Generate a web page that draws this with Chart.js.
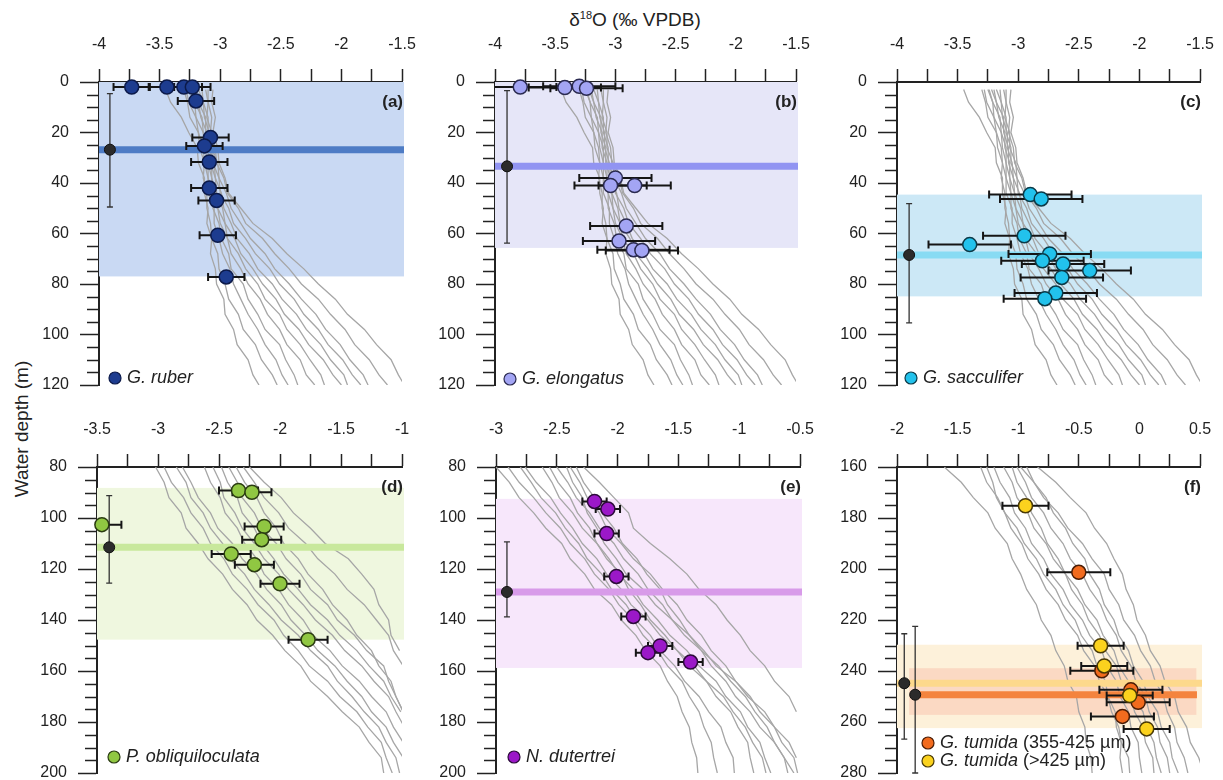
<!DOCTYPE html>
<html><head><meta charset="utf-8">
<script src="https://cdn.jsdelivr.net/npm/chart.js@4.4.1/dist/chart.umd.min.js"></script>
<style>
html,body{margin:0;padding:0;background:#fff;}
#wrap{position:relative;width:1223px;height:780px;overflow:hidden;font-family:'Liberation Sans',Arial,Helvetica,sans-serif;color:#222;}
#wrap canvas{position:absolute;}
#title{position:absolute;left:535px;width:200px;top:9px;text-align:center;font-size:19px;white-space:nowrap;}
#title sup{font-size:11px;}
#ylab{position:absolute;left:-78px;top:418px;width:200px;text-align:center;font-size:19px;transform:rotate(-90deg);white-space:nowrap;}
</style></head>
<body>
<div id="wrap">
  <div id="title">δ<sup>18</sup>O (‰ VPDB)</div>
  <div id="ylab">Water depth (m)</div>
</div>
<script>
// ---------- tick labels ----------
const xTicksTop = [-4, -3.5, -3, -2.5, -2, -1.5];
const xTicksD = [-3.5, -3, -2.5, -2, -1.5, -1];
const xTicksE = [-3, -2.5, -2, -1.5, -1, -0.5];
const xTicksF = [-2, -1.5, -1, -0.5, 0, 0.5];
const yTicksTop = [0, 20, 40, 60, 80, 100, 120];
const yTicksBot = [80, 100, 120, 140, 160, 180, 200];
const yTicksF = [160, 180, 200, 220, 240, 260, 280];

// ---------- gray profiles (top row, 0-120 m) ----------
const depthTop = [3,8,14,20,26,32,38,44,50,56,62,68,74,80,86,92,98,104,110,116,120];
const profT1 = [-3.45,-3.41,-3.32,-3.26,-3.19,-3.18,-3.13,-3.13,-3.10,-3.11,-3.07,-3.08,-3.04,-3.03,-2.97,-2.96,-2.89,-2.86,-2.77,-2.73,-2.68];
const profT2 = [-3.30,-3.27,-3.25,-3.18,-3.17,-3.13,-3.14,-3.11,-3.11,-3.08,-3.07,-3.02,-3.01,-2.96,-2.93,-2.85,-2.81,-2.71,-2.66,-2.57,-2.53];
const profT3 = [-3.28,-3.26,-3.20,-3.18,-3.14,-3.13,-3.10,-3.10,-3.05,-3.05,-3.01,-2.98,-2.92,-2.89,-2.83,-2.77,-2.69,-2.63,-2.54,-2.49,-2.44];
const profT4 = [-3.25,-3.21,-3.20,-3.14,-3.13,-3.10,-3.10,-3.06,-3.06,-3.01,-2.99,-2.93,-2.91,-2.81,-2.77,-2.69,-2.63,-2.51,-2.46,-2.39,-2.36];
const profT5 = [-3.24,-3.21,-3.15,-3.14,-3.10,-3.10,-3.07,-3.06,-3.02,-3.00,-2.94,-2.91,-2.83,-2.77,-2.67,-2.61,-2.51,-2.45,-2.34,-2.29,-2.22];
const profT6 = [-3.22,-3.18,-3.16,-3.11,-3.11,-3.07,-3.07,-3.03,-3.02,-2.96,-2.94,-2.85,-2.79,-2.69,-2.63,-2.51,-2.45,-2.34,-2.26,-2.17,-2.14];
const profT7 = [-3.20,-3.18,-3.12,-3.12,-3.08,-3.08,-3.04,-3.03,-2.98,-2.96,-2.88,-2.83,-2.73,-2.65,-2.54,-2.47,-2.35,-2.27,-2.15,-2.07,-2.00];
const profT8 = [-3.18,-3.14,-3.13,-3.09,-3.09,-3.05,-3.04,-2.99,-2.97,-2.91,-2.86,-2.76,-2.69,-2.57,-2.49,-2.37,-2.29,-2.17,-2.09,-1.98,-1.95];
const profT9 = [-3.15,-3.14,-3.10,-3.10,-3.06,-3.06,-3.01,-3.00,-2.93,-2.89,-2.79,-2.71,-2.59,-2.51,-2.39,-2.31,-2.19,-2.11,-1.99,-1.91,-1.84];
const profT10 = [-3.12,-3.10,-3.11,-3.07,-3.07,-3.02,-3.01,-2.95,-2.91,-2.83,-2.75,-2.63,-2.55,-2.43,-2.33,-2.21,-2.13,-2.01,-1.93,-1.82,-1.78];
const profT11 = [-3.10,-3.10,-3.07,-3.08,-3.04,-3.03,-2.97,-2.94,-2.85,-2.79,-2.65,-2.55,-2.43,-2.33,-2.19,-2.09,-1.97,-1.89,-1.77,-1.69,-1.62];
const profT12 = [-3.06,-3.07,-3.04,-3.06,-3.02,-3.01,-2.96,-2.93,-2.83,-2.73,-2.57,-2.45,-2.31,-2.19,-2.05,-1.95,-1.81,-1.71,-1.59,-1.53,-1.48];
const profilesTop = [profT1,profT2,profT3,profT4,profT5,profT6,profT7,profT8,profT9,profT10,profT11,profT12];

// ---------- gray profiles (d, e : 80-200 m) ----------
const depthBot = [80,86,92,98,104,110,116,122,128,134,140,146,152,158,164,170,176,182,188,194,200];
const profD1 = [-3.02,-2.95,-2.91,-2.81,-2.77,-2.67,-2.59,-2.47,-2.39,-2.27,-2.19,-2.06,-1.96,-1.83,-1.75,-1.61,-1.49,-1.35,-1.27,-1.17,-1.15];
const profD2 = [-2.95,-2.89,-2.79,-2.73,-2.63,-2.57,-2.46,-2.39,-2.27,-2.18,-2.05,-1.97,-1.85,-1.76,-1.61,-1.51,-1.37,-1.28,-1.17,-1.13,-1.08];
const profD3 = [-2.85,-2.77,-2.73,-2.63,-2.57,-2.47,-2.41,-2.29,-2.21,-2.09,-1.99,-1.85,-1.75,-1.61,-1.53,-1.41,-1.31,-1.19,-1.13,-1.05,-1.02];
const profD4 = [-2.80,-2.73,-2.67,-2.57,-2.51,-2.39,-2.31,-2.19,-2.11,-1.99,-1.91,-1.79,-1.69,-1.55,-1.45,-1.33,-1.25,-1.13,-1.07,-0.99];
const profD5 = [-2.62,-2.57,-2.49,-2.45,-2.35,-2.29,-2.19,-2.13,-2.01,-1.93,-1.81,-1.73,-1.59,-1.49,-1.35,-1.25,-1.13,-1.07,-0.99];
const profD6 = [-2.55,-2.49,-2.46,-2.37,-2.31,-2.21,-2.13,-2.01,-1.93,-1.81,-1.71,-1.57,-1.47,-1.33,-1.23,-1.11,-1.05,-0.98];
const profD7 = [-2.48,-2.43,-2.35,-2.31,-2.21,-2.15,-2.05,-1.97,-1.85,-1.75,-1.61,-1.51,-1.37,-1.27,-1.15,-1.09,-1.01];
const profD8 = [-2.42,-2.35,-2.31,-2.21,-2.15,-2.03,-1.95,-1.83,-1.75,-1.61,-1.53,-1.39,-1.29,-1.15,-1.11,-1.05,-0.99];
const profD9 = [-2.36,-2.29,-2.19,-2.13,-2.03,-1.97,-1.85,-1.77,-1.65,-1.57,-1.45,-1.37,-1.25,-1.19,-1.09,-1.05,-0.99];
const profD10 = [-2.30,-2.21,-2.13,-2.01,-1.93,-1.79,-1.69,-1.55,-1.45,-1.31,-1.21,-1.11,-1.07,-0.99];
const profD11 = [-2.25,-2.13,-1.99,-1.89,-1.75,-1.63,-1.44,-1.33,-1.23,-1.19,-1.11,-1.09,-1.02];
const profilesD = [profD1,profD2,profD3,profD4,profD5,profD6,profD7,profD8,profD9,profD10,profD11];

const profE1 = [-3.00,-2.89,-2.81,-2.69,-2.59,-2.46,-2.39,-2.27,-2.19,-2.05,-1.97,-1.85,-1.77,-1.65,-1.59,-1.51,-1.47,-1.41,-1.39,-1.35,-1.34];
const profE2 = [-2.90,-2.81,-2.69,-2.59,-2.47,-2.39,-2.27,-2.19,-2.07,-1.99,-1.87,-1.79,-1.67,-1.59,-1.47,-1.41,-1.33,-1.29,-1.23,-1.21,-1.18];
const profE3 = [-2.80,-2.71,-2.63,-2.51,-2.43,-2.32,-2.25,-2.13,-2.05,-1.93,-1.85,-1.73,-1.65,-1.53,-1.45,-1.33,-1.25,-1.15,-1.11,-1.05,-1.04];
const profE4 = [-2.76,-2.67,-2.55,-2.47,-2.37,-2.29,-2.17,-2.09,-1.97,-1.89,-1.75,-1.65,-1.51,-1.41,-1.27,-1.19,-1.07,-1.01,-0.93,-0.91,-0.88];
const profE5 = [-2.56,-2.49,-2.39,-2.33,-2.23,-2.17,-2.07,-1.99,-1.87,-1.79,-1.67,-1.57,-1.43,-1.33,-1.19,-1.11,-0.99,-0.93,-0.83,-0.79,-0.74];
const profE6 = [-2.50,-2.41,-2.34,-2.23,-2.15,-2.03,-1.95,-1.83,-1.75,-1.63,-1.55,-1.41,-1.31,-1.17,-1.07,-0.95,-0.87,-0.77,-0.71,-0.63,-0.60];
const profE7 = [-2.42,-2.37,-2.29,-2.25,-2.17,-2.11,-2.01,-1.93,-1.79,-1.69,-1.55,-1.45,-1.31,-1.23,-1.11,-1.03,-0.91,-0.83,-0.71,-0.63,-0.55];
const profE8 = [-2.39,-2.31,-2.25,-2.15,-2.09,-1.97,-1.87,-1.73,-1.63,-1.51,-1.43,-1.31,-1.23,-1.11,-1.03,-0.91,-0.83,-0.71,-0.65,-0.55,-0.52];
const profE9 = [-2.34,-2.28,-2.19,-2.13,-2.03,-1.96,-1.84,-1.76,-1.65,-1.59,-1.49,-1.41,-1.29,-1.19,-1.03,-0.93,-0.79,-0.71,-0.59,-0.53];
const profE10 = [-2.28,-2.15,-2.03,-1.91,-1.87,-1.73,-1.57,-1.43,-1.33,-1.19,-1.10,-0.99,-0.91,-0.79,-0.71,-0.59,-0.53];
const profE11 = [-2.62,-2.54,-2.48,-2.37,-2.29,-2.17,-2.09,-1.97,-1.91,-1.81,-1.73,-1.61,-1.51,-1.37,-1.27,-1.13,-1.05,-0.95,-0.89,-0.81,-0.78];
const profilesE = [profE1,profE2,profE3,profE4,profE5,profE6,profE7,profE8,profE9,profE10,profE11];

// ---------- gray profiles (f : 160-280 m) ----------
const depthF = [160,166,172,178,184,190,196,202,208,214,220,226,232,238,244,250,256,262,268,274,280];
const profF1 = [-1.61,-1.47,-1.37,-1.25,-1.19,-1.09,-1.05,-0.98,-0.93,-0.85,-0.81,-0.73,-0.69,-0.62,-0.59,-0.52,-0.50,-0.45,-0.44,-0.40,-0.39];
const profF2 = [-1.31,-1.26,-1.17,-1.11,-1.01,-0.95,-0.85,-0.79,-0.69,-0.63,-0.53,-0.48,-0.39,-0.35,-0.28,-0.26,-0.20,-0.19,-0.15,-0.16,-0.14];
const profF3 = [-1.26,-1.21,-1.18,-1.11,-1.06,-0.97,-0.92,-0.83,-0.77,-0.67,-0.61,-0.51,-0.46,-0.37,-0.33,-0.26,-0.23,-0.17,-0.15,-0.09,-0.08];
const profF4 = [-1.20,-1.15,-1.07,-1.03,-0.94,-0.89,-0.79,-0.73,-0.63,-0.57,-0.47,-0.41,-0.31,-0.27,-0.19,-0.16,-0.09,-0.07,-0.01,0.00,0.02];
const profF5 = [-1.12,-1.05,-1.01,-0.92,-0.87,-0.77,-0.71,-0.61,-0.56,-0.47,-0.42,-0.33,-0.28,-0.19,-0.15,-0.07,-0.04,0.03,0.05,0.11,0.12];
const profF6 = [-1.05,-1.01,-0.93,-0.89,-0.81,-0.76,-0.67,-0.61,-0.51,-0.45,-0.35,-0.30,-0.21,-0.17,-0.09,-0.05,0.03,0.06,0.12,0.14,0.18];
const profF7 = [-1.01,-0.94,-0.89,-0.79,-0.73,-0.63,-0.57,-0.47,-0.41,-0.32,-0.27,-0.19,-0.15,-0.07,-0.03,0.05,0.08,0.15,0.17,0.23,0.25];
const profF8 = [-0.93,-0.87,-0.77,-0.71,-0.61,-0.55,-0.45,-0.41,-0.33,-0.29,-0.21,-0.17,-0.09,-0.05,0.03,0.07,0.15,0.18,0.25,0.27,0.32];
const profF9 = [-0.84,-0.69,-0.57,-0.44,-0.37,-0.27,-0.21,-0.14,-0.11,-0.05,-0.02,0.05,0.09,0.17,0.21,0.29,0.32,0.39,0.42,0.49,0.53];
const profF10 = [-0.98,-0.87,-0.79,-0.67,-0.59,-0.47,-0.39,-0.29,-0.25,-0.17,-0.13,-0.04,0.01,0.09,0.13,0.20,0.23,0.29,0.31,0.37,0.40];
const profilesF = [profF1,profF2,profF3,profF4,profF5,profF6,profF7,profF8,profF9,profF10];

// ---------- species measurements (x = d18O, y = depth) ----------
const aX = [-3.73,-3.44,-3.30,-3.23,-3.20,-3.08,-3.13,-3.09,-3.09,-3.03,-3.02,-2.95];
const aY = [2,2,2,2,7.5,22,25.3,31.7,42,46.9,60.7,77.2];
const aErr = 0.15;
const aMean = [-3.91, 26.8, 4.6, 49.5];   // x, depth, lower, upper
const aBand = [0, 77];

const bX = [-3.79,-3.42,-3.30,-3.24,-3.00,-3.04,-2.84,-2.91,-2.97,-2.85,-2.78];
const bY = [2.0,2.2,1.7,2.5,38,41,41,57,63,66.4,66.7];
const bErr = 0.30;
const bMean = [-3.90, 33.4, 3.4, 63.8];
const bBand = [0, 65.7];

const cX = [-2.90,-2.81,-2.95,-3.40,-2.74,-2.80,-2.63,-2.41,-2.64,-2.69,-2.78];
const cY = [44.6,46.3,60.9,64.4,68.1,70.8,72.1,74.7,77.4,83.6,85.8];
const cErr = 0.34;
const cMean = [-3.90, 68.5, 48.2, 95.4];
const cBand = [44.6, 84.9];

const dX = [-2.34,-2.23,-2.13,-2.15,-2.40,-2.21,-2.00,-1.77,-3.46];
const dY = [89.2,89.9,103.3,108.5,114.1,118.3,125.8,147.7,102.6];
const dErr = 0.16;
const dMean = [-3.40, 111.5, 91.2, 125.5];
const dBand = [88.2, 147.7];

const eX = [-2.19,-2.08,-2.09,-2.01,-1.87,-1.65,-1.75,-1.40];
const eY = [93.5,96.5,106.1,122.9,138.6,150.2,152.8,156.5];
const eErr = 0.10;
const eMean = [-2.91, 129.0, 109.4, 138.8];
const eBand = [92.5, 158.8];

const fOrX = [-0.50,-0.31,-0.07,-0.01,-0.14];
const fOrY = [201.3,239.9,247.4,252.3,257.8];
const fOrErr = 0.26;
const fOrMean = [-1.85, 249.3, 222.5, 280];
const fOrBand = [238.9, 257.2];
const fYelX = [-0.94,-0.32,-0.29,-0.08,0.06];
const fYelY = [175.2,230.1,238.0,249.6,262.7];
const fYelErr = 0.19;
const fYelMean = [-1.94, 244.8, 225.4, 266.7];
const fYelBand = [229.7, 262.4];

const legendNames = ['G. ruber','G. elongatus','G. sacculifer','P. obliquiloculata','N. dutertrei','G. tumida','G. tumida'];
const legendSuffix = ['', '', '', '', '', ' (355-425 µm)', ' (>425 µm)'];
const panelLabels = ['(a)','(b)','(c)','(d)','(e)','(f)'];

// ---------- panel definitions ----------
const FONT = "'Liberation Sans', Arial, Helvetica, sans-serif";
Chart.defaults.font.family = FONT;
Chart.defaults.font.size = 16;
Chart.defaults.color = '#222';

const PAD_L = 60, PAD_T = 55, PAD_R = 34, PAD_B = 24;

const panels = [
  {id:'a', L:99, R:402, T:82, B:385, xTicks:xTicksTop, yTicks:yTicksTop, depth:depthTop, profiles:profilesTop,
   series:[{x:aX, y:aY, err:aErr, fill:'#1d3c8f', edge:'#0c1a4a', order:1}],
   means:[{v:aMean, color:'#4e7cc5'}],
   bands:[{r:aBand, color:'#c9d9f3'}],
   legend:[{dx:16, dy:-7, fill:'#1d3c8f', edge:'#0c1a4a', k:0}], label:0},
  {id:'b', L:495, R:796, T:82, B:385, xTicks:xTicksTop, yTicks:yTicksTop, depth:depthTop, profiles:profilesTop,
   series:[{x:bX, y:bY, err:bErr, fill:'#a3a5f4', edge:'#2a2a50', order:1}],
   means:[{v:bMean, color:'#9194f2'}],
   bands:[{r:bBand, color:'#e6e6f8'}],
   legend:[{dx:15, dy:-6, fill:'#a3a5f4', edge:'#2a2a50', k:1}], label:1},
  {id:'c', L:897, R:1200, T:82, B:385, xTicks:xTicksTop, yTicks:yTicksTop, depth:depthTop, profiles:profilesTop,
   series:[{x:cX, y:cY, err:cErr, fill:'#22c2ec', edge:'#0b3a48', order:1}],
   means:[{v:cMean, color:'#88dbf3'}],
   bands:[{r:cBand, color:'#cce8f6'}],
   legend:[{dx:14, dy:-7, fill:'#22c2ec', edge:'#0b3a48', k:2}], label:2},
  {id:'d', L:97, R:402, T:467, B:773, xTicks:xTicksD, yTicks:yTicksBot, depth:depthBot, profiles:profilesD,
   series:[{x:dX, y:dY, err:dErr, fill:'#90c742', edge:'#2b3c12', order:1}],
   means:[{v:dMean, color:'#c8e89c'}],
   bands:[{r:dBand, color:'#eff7df'}],
   legend:[{dx:17, dy:-16, fill:'#90c742', edge:'#2b3c12', k:3}], label:3},
  {id:'e', L:496, R:800, T:467, B:773, xTicks:xTicksE, yTicks:yTicksBot, depth:depthBot, profiles:profilesE,
   series:[{x:eX, y:eY, err:eErr, fill:'#9b18c8', edge:'#2c0a3a', order:1}],
   means:[{v:eMean, color:'#d89be9'}],
   bands:[{r:eBand, color:'#f7e7fb'}],
   legend:[{dx:18, dy:-16, fill:'#9b18c8', edge:'#2c0a3a', k:4}], label:4},
  {id:'f', L:897, R:1200, T:467, B:773, xTicks:xTicksF, yTicks:yTicksF, depth:depthF, profiles:profilesF,
   series:[{x:fOrX, y:fOrY, err:fOrErr, fill:'#f26b1e', edge:'#4a1c05', order:2},
           {x:fYelX, y:fYelY, err:fYelErr, fill:'#fbd21e', edge:'#4a3a05', order:1}],
   means:[{v:fYelMean, color:'#fdd98c'},
          {v:fOrMean, color:'#f4843e', x0:-1.85, x1:0.475}],
   bands:[{r:fYelBand, color:'#fdf1da'},
          {r:fOrBand, color:'#fbd9c3', x0:-1.90, x1:0.47}],
   legend:[{dx:31, dy:-30, fill:'#f26b1e', edge:'#4a1c05', k:5},
           {dx:31, dy:-12, fill:'#fbd21e', edge:'#4a3a05', k:6}], label:5}
];
const panelById = {};
panels.forEach(p => panelById['cv_' + p.id] = p);

function withMinor(major){
  const out = [];
  for (let i = 0; i < major.length; i++){
    out.push(major[i]);
    if (i < major.length - 1) out.push((major[i] + major[i+1]) / 2);
  }
  return out;
}
function isMajor(v, major){ return major.some(m => Math.abs(m - v) < 1e-6); }

const decoPlugin = {
  id: 'deco',
  beforeDatasetsDraw(chart){
    const p = panelById[chart.canvas.id]; if (!p) return;
    chart.$decoDone = false;
    const {ctx, chartArea:ca} = chart; const xs = chart.scales.x, ys = chart.scales.y;
    ctx.save(); ctx.beginPath(); ctx.rect(ca.left, ca.top, ca.width + 2, ca.height); ctx.clip();
    p.bands.forEach(b => {
      const x0 = b.x0 == null ? ca.left : xs.getPixelForValue(b.x0);
      const x1 = b.x1 == null ? ca.right + 2 : xs.getPixelForValue(b.x1);
      const y0 = ys.getPixelForValue(b.r[0]), y1 = ys.getPixelForValue(b.r[1]);
      ctx.fillStyle = b.color; ctx.fillRect(x0, y0, x1 - x0, y1 - y0);
    });
    ctx.restore();
  },
  beforeDatasetDraw(chart, args){
    const p = panelById[chart.canvas.id]; if (!p) return;
    const ds = chart.data.datasets[args.index];
    if (chart.$decoDone || !(ds.isMarker || ds.isMean)) return;
    chart.$decoDone = true;
    const {ctx, chartArea:ca} = chart; const xs = chart.scales.x, ys = chart.scales.y;
    ctx.save(); ctx.beginPath(); ctx.rect(ca.left, ca.top - 12, ca.width + 12, ca.height + 24); ctx.clip();
    // mean lines
    p.means.forEach(m => {
      const x0 = m.x0 == null ? ca.left : xs.getPixelForValue(m.x0);
      const x1 = m.x1 == null ? ca.right + 2 : xs.getPixelForValue(m.x1);
      const y = ys.getPixelForValue(m.v[1]);
      ctx.strokeStyle = m.color; ctx.lineWidth = 7; ctx.lineCap = 'butt';
      ctx.beginPath(); ctx.moveTo(x0, y); ctx.lineTo(x1, y); ctx.stroke();
    });
    // vertical range bars of the mean depth
    ctx.strokeStyle = '#333'; ctx.lineWidth = 1.3;
    p.means.forEach(m => {
      const x = xs.getPixelForValue(m.v[0]);
      const y0 = ys.getPixelForValue(m.v[2]), y1 = ys.getPixelForValue(m.v[3]);
      ctx.beginPath();
      ctx.moveTo(x, y0); ctx.lineTo(x, y1);
      ctx.moveTo(x - 3, y0); ctx.lineTo(x + 3, y0);
      ctx.moveTo(x - 3, y1); ctx.lineTo(x + 3, y1);
      ctx.stroke();
    });
    ctx.restore();
    // horizontal error bars
    ctx.save(); ctx.beginPath(); ctx.rect(ca.left, ca.top - 12, ca.width + 12, ca.height + 24); ctx.clip();
    ctx.strokeStyle = '#151515'; ctx.lineWidth = 2;
    p.series.forEach(s => {
      s.x.forEach((v, i) => {
        const x0 = xs.getPixelForValue(v - s.err), x1 = xs.getPixelForValue(v + s.err);
        const y = ys.getPixelForValue(s.y[i]);
        ctx.beginPath();
        ctx.moveTo(x0, y); ctx.lineTo(x1, y);
        ctx.moveTo(x0, y - 4); ctx.lineTo(x0, y + 4);
        ctx.moveTo(x1, y - 4); ctx.lineTo(x1, y + 4);
        ctx.stroke();
      });
    });
    ctx.restore();
  },
  afterDraw(chart){
    const p = panelById[chart.canvas.id]; if (!p) return;
    const {ctx, chartArea:ca} = chart; const ys = chart.scales.y;
    ctx.save();
    // minor ticks on depth axis
    ctx.strokeStyle = '#222'; ctx.lineWidth = 1.5;
    for (let i = 0; i < p.yTicks.length - 1; i++){
      for (let k = 1; k < 4; k++){
        const v = p.yTicks[i] + (p.yTicks[i+1] - p.yTicks[i]) * k / 4;
        const y = Math.round(ys.getPixelForValue(v)) + 0.5;
        ctx.beginPath(); ctx.moveTo(ca.left - 12, y); ctx.lineTo(ca.left, y); ctx.stroke();
      }
    }
    // legend
    p.legend.forEach(l => {
      const cx = ca.left + l.dx, cy = ca.bottom + l.dy;
      ctx.beginPath(); ctx.arc(cx, cy, 6, 0, Math.PI * 2);
      ctx.fillStyle = l.fill; ctx.fill();
      ctx.lineWidth = 1.2; ctx.strokeStyle = l.edge; ctx.stroke();
      ctx.fillStyle = '#222'; ctx.textBaseline = 'middle'; ctx.textAlign = 'left';
      ctx.font = 'italic 18px ' + FONT;
      const name = legendNames[l.k];
      ctx.fillText(name, cx + 12, cy);
      const suf = legendSuffix[l.k];
      if (suf){
        const w = ctx.measureText(name).width;
        ctx.font = '18px ' + FONT;
        ctx.fillText(suf, cx + 12 + w, cy);
      }
    });
    // panel label
    ctx.font = 'bold 17px ' + FONT; ctx.fillStyle = '#222';
    ctx.textAlign = 'right'; ctx.textBaseline = 'middle';
    ctx.fillText(panelLabels[p.label], ca.right + 1, ca.top + 20);
    ctx.restore();
  }
};
Chart.register(decoPlugin);

const wrap = document.getElementById('wrap');
panels.forEach(p => {
  const cv = document.createElement('canvas');
  cv.id = 'cv_' + p.id;
  const w = p.R - p.L + PAD_L + PAD_R, h = p.B - p.T + PAD_T + PAD_B;
  cv.width = w; cv.height = h;
  cv.style.left = (p.L - PAD_L) + 'px'; cv.style.top = (p.T - PAD_T) + 'px';
  cv.style.width = w + 'px'; cv.style.height = h + 'px';
  wrap.appendChild(cv);

  const datasets = [];
  p.series.forEach(s => datasets.push({
    isMarker: true,
    data: s.x.map((v, i) => ({x: v, y: s.y[i]})),
    showLine: false, pointRadius: 7, pointHoverRadius: 7,
    pointBackgroundColor: s.fill, pointBorderColor: s.edge, pointBorderWidth: 1.5,
    order: s.order, clip: false
  }));
  p.means.forEach(m => datasets.push({
    isMean: true,
    data: [{x: m.v[0], y: m.v[1]}],
    showLine: false, pointRadius: 5.5, pointHoverRadius: 5.5,
    pointBackgroundColor: '#2b2b2b', pointBorderColor: '#111', pointBorderWidth: 1,
    order: 0, clip: false
  }));
  p.profiles.forEach(pr => datasets.push({
    data: pr.map((v, i) => ({x: v, y: p.depth[i]})),
    showLine: true, borderColor: '#a6a6a6', borderWidth: 1.3, pointRadius: 0, pointHoverRadius: 0,
    tension: 0, order: 10
  }));

  new Chart(cv, {
    type: 'scatter',
    data: {datasets},
    options: {
      responsive: false, animation: false, events: [],
      layout: {padding: {left: 0, top: 0, right: PAD_R, bottom: PAD_B}},
      plugins: {legend: {display: false}, tooltip: {enabled: false}},
      scales: {
        x: {
          type: 'linear', position: 'top',
          min: p.xTicks[0], max: p.xTicks[p.xTicks.length - 1],
          afterBuildTicks: (sc) => { sc.ticks = withMinor(p.xTicks).map(v => ({value: v})); },
          afterFit: (sc) => { sc.height = PAD_T; },
          ticks: {autoSkip: false, maxRotation: 0, minRotation: 0, padding: 15, color: '#222', font: {size: 16},
                  callback: (v) => isMajor(v, p.xTicks) ? String(v) : ''},
          grid: {display: true, drawOnChartArea: false, drawTicks: true, tickLength: 13, tickWidth: 1.5, tickColor: '#222'},
          border: {display: true, color: '#222', width: 2}
        },
        y: {
          type: 'linear', position: 'left', reverse: true,
          min: p.yTicks[0], max: p.yTicks[p.yTicks.length - 1],
          afterBuildTicks: (sc) => { sc.ticks = p.yTicks.map(v => ({value: v})); },
          afterFit: (sc) => { sc.width = PAD_L; },
          ticks: {autoSkip: false, padding: 11, color: '#222', font: {size: 16}, callback: (v) => String(v)},
          grid: {display: true, drawOnChartArea: false, drawTicks: true, tickLength: 19, tickWidth: 1.5, tickColor: '#222'},
          border: {display: true, color: '#222', width: 2}
        }
      }
    }
  });
});
</script>
</body></html>
